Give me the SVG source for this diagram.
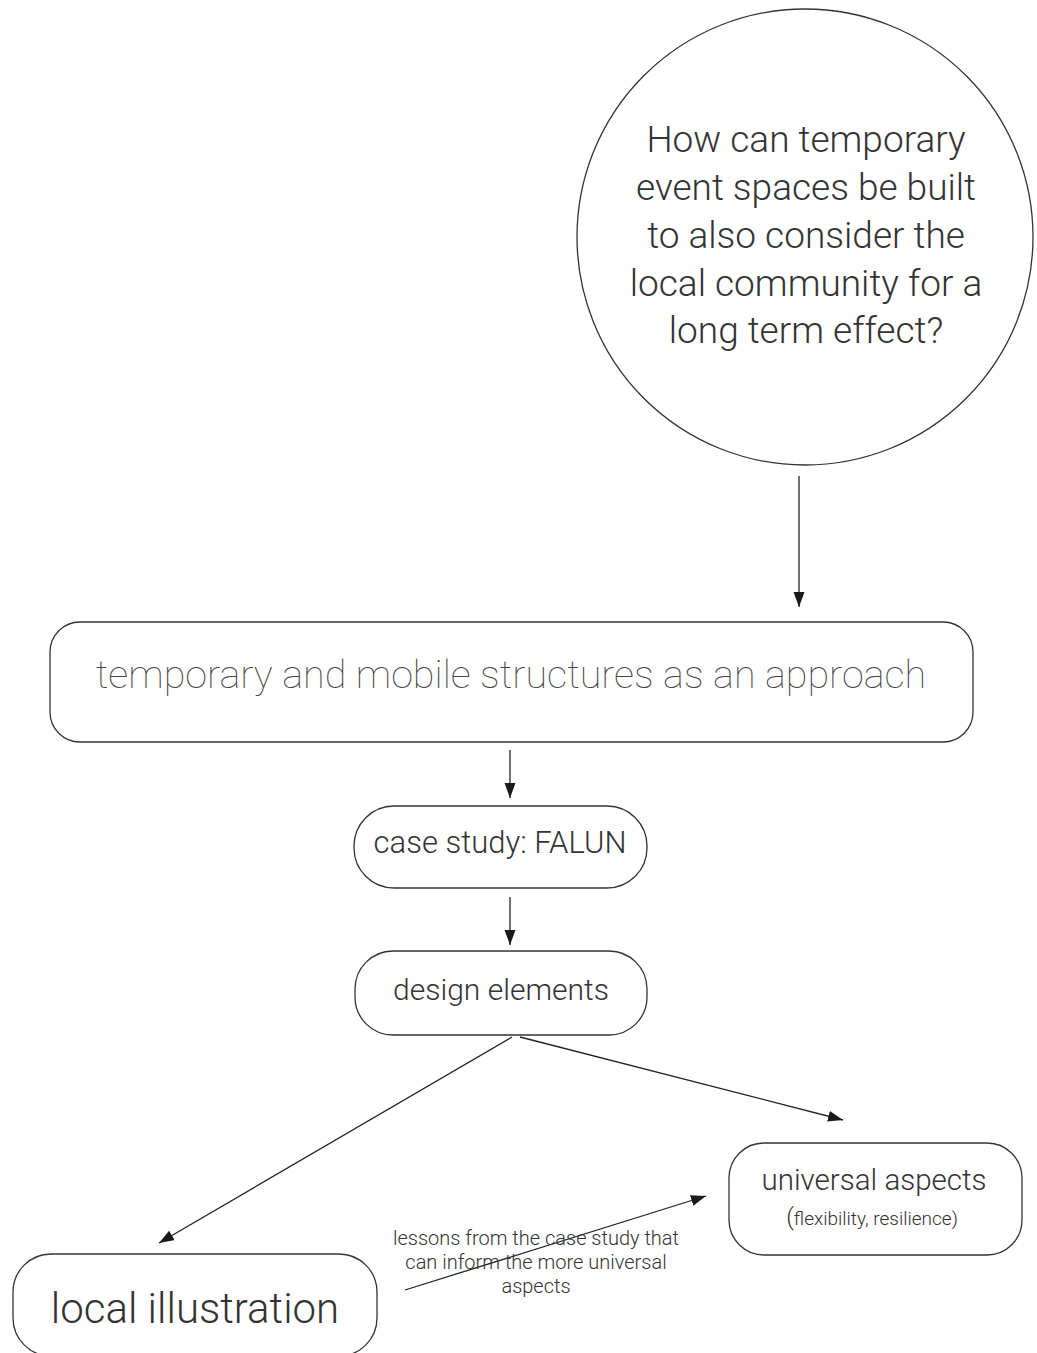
<svg xmlns="http://www.w3.org/2000/svg" width="1037" height="1353" viewBox="0 0 1037 1353">
<style>
.box{fill:#fff;stroke:#333;stroke-width:1.3}
.edge{fill:none;stroke:#222;stroke-width:1.3}
.t{font-family:Roboto,"Liberation Sans",sans-serif;font-weight:300;fill:#333;text-anchor:middle}
.thin{font-family:Roboto,"Liberation Sans",sans-serif;font-weight:100;fill:#444;text-anchor:middle}
</style>
<defs>
<marker id="ah" markerUnits="userSpaceOnUse" markerWidth="16" markerHeight="12" refX="15" refY="5.5" orient="auto">
<path d="M0,0 L15,5.5 L0,11 z" fill="#1a1a1a"/>
</marker>
</defs>
<rect width="1037" height="1353" fill="#fff"/>
<g id="question">
<circle class="box" cx="805" cy="237" r="228"/>
<text class="t" font-size="37" x="806"><tspan x="806" y="152">How can temporary</tspan><tspan x="806" y="200">event spaces be built</tspan><tspan x="806" y="248">to also consider the</tspan><tspan x="806" y="296">local community for a</tspan><tspan x="806" y="343">long term effect?</tspan></text>
</g>
<g id="approach">
<rect class="box" x="50" y="622" width="923" height="120" rx="30"/>
<text class="thin" font-size="39.5" x="511" y="688">temporary and mobile structures as an approach</text>
</g>
<g id="casestudy">
<rect class="box" x="354" y="806" width="293" height="82" rx="40"/>
<text class="t" font-size="31" x="500" y="853">case study: FALUN</text>
</g>
<g id="design">
<rect class="box" x="355" y="951" width="292" height="84" rx="38"/>
<text class="t" font-size="30" x="501" y="1000">design elements</text>
</g>
<g id="universal">
<rect class="box" x="729" y="1143" width="293" height="112" rx="35"/>
<text class="t" font-size="29.5" x="874" y="1190">universal aspects</text>
<text class="t" font-size="19" x="872" y="1225"><tspan font-size="24">(</tspan>flexibility, resilience)</text>
</g>
<g id="local">
<rect class="box" x="13" y="1254" width="364" height="102" rx="38"/>
<text class="t" font-size="42" x="195" y="1323">local illustration</text>
</g>
<g id="connectors">
<line class="edge" x1="799" y1="476" x2="799" y2="607" marker-end="url(#ah)"/>
<line class="edge" x1="510" y1="750" x2="510" y2="798" marker-end="url(#ah)"/>
<line class="edge" x1="510" y1="897" x2="510" y2="945" marker-end="url(#ah)"/>
<line class="edge" x1="512" y1="1037" x2="159" y2="1243" marker-end="url(#ah)"/>
<line class="edge" x1="520" y1="1037" x2="843" y2="1120" marker-end="url(#ah)"/>
<line class="edge" x1="405" y1="1290" x2="706" y2="1196" marker-end="url(#ah)"/>
<text class="t" font-size="20" fill="#444"><tspan x="536" y="1245">lessons from the case study that</tspan><tspan x="536" y="1269">can inform the more universal</tspan><tspan x="536" y="1293">aspects</tspan></text>
</g>
</svg>
